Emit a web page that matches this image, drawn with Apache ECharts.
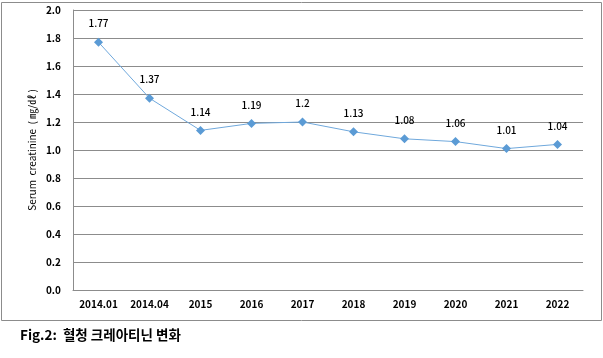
<!DOCTYPE html>
<html><head><meta charset="utf-8">
<script src="https://cdn.jsdelivr.net/npm/echarts@6/dist/echarts.min.js"></script>
<style>html,body{margin:0;padding:0;background:#fff}#c{width:603px;height:358px}</style>
</head><body><div id="c"></div>
<script>
const categories = ['2014.01','2014.04','2015','2016','2017','2018','2019','2020','2021','2022'];
const values = [1.77, 1.37, 1.14, 1.19, 1.2, 1.13, 1.08, 1.06, 1.01, 1.04];
const yName = 'Serum  creatinine  ( ㎎/㎗ )';
const caption = 'Fig.2:  혈청 크레아티닌 변화';
const font = '"Noto Sans CJK KR", "Noto Sans", sans-serif';
const chart = echarts.init(document.getElementById('c'), null, {renderer:'canvas'});
chart.setOption({
  animation: false,
  textStyle: {fontFamily: font},
  graphic: [
    {type:'rect', shape:{x:1.5, y:2.5, width:600, height:318}, style:{fill:'none', stroke:'#8c8c8c', lineWidth:1}, z:-1},
    {type:'text', left:20, top:328, style:{text:caption, font:'bold 13.5px ' + font, fill:'#000'}}
  ],
  grid: {left:73, right:20, top:10, bottom:68},
  xAxis: {
    type:'category', data: categories, boundaryGap:true,
    axisLine:{lineStyle:{color:'#8c8c8c'}}, axisTick:{show:false},
    axisLabel:{color:'#000', fontSize:10, fontWeight:'bold', margin:9, fontFamily:font}
  },
  yAxis: {
    type:'value', min:0, max:2, interval:0.2,
    name: yName, nameLocation:'middle', nameGap:36, nameRotate:90, nameMoveOverlap:false,
    nameTextStyle:{color:'#000', fontSize:10, fontFamily:font},
    axisLine:{show:true, lineStyle:{color:'#8c8c8c'}}, axisTick:{show:false},
    splitLine:{lineStyle:{color:'#8c8c8c'}},
    axisLabel:{color:'#000', fontSize:10, fontWeight:'bold', margin:12, fontFamily:font, formatter:v=>v.toFixed(1)}
  },
  series: [{
    type:'line', data: values,
    symbol:'diamond', symbolSize:9,
    lineStyle:{color:'#6fa8dc', width:1},
    itemStyle:{color:'#5b9bd5'},
    label:{show:true, position:'top', distance:9, color:'#000', fontSize:10, fontWeight:500, fontFamily:font}
  }]
});
</script></body></html>
